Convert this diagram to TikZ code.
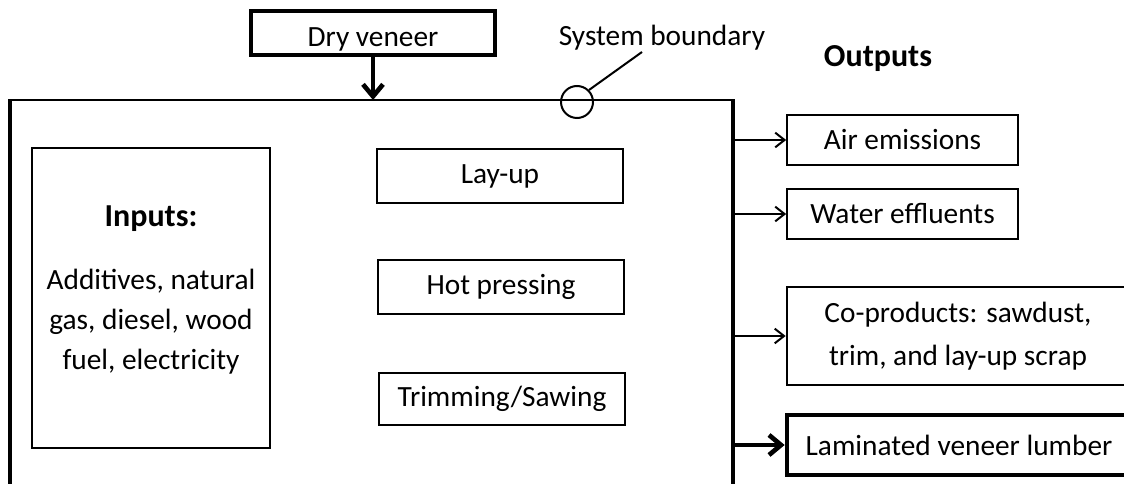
\documentclass[tikz,border=0pt]{standalone}
\usepackage{fontspec}
\setmainfont{Carlito}
\usetikzlibrary{arrows.meta}

\begin{document}
\begin{tikzpicture}[x=0.75pt, y=-0.75pt,
  box/.style={draw, line width=1.5pt, inner sep=0pt, align=center,
    font=\fontsize{22}{30}\selectfont},
  thickbox/.style={box, line width=3pt},
  title/.style={font=\fontsize{24}{28}\selectfont\bfseries},
  flow/.style={-{Straight Barb[length=7pt, width=11pt]}, line width=1.5pt},
  mainflow/.style={-{Straight Barb[length=9pt, width=15pt]}, line width=3.5pt}]
  \useasboundingbox (0,0) rectangle (1124,484);

  % system boundary
  \coordinate (tl) at (10,100);
  \coordinate (tr) at (733,100);
  \draw[line width=3pt] (10,500) -- (tl);
  \draw[line width=2pt] ([xshift=-1.5pt]tl) -- ([xshift=1.5pt]tr);
  \draw[line width=3pt] (tr) -- (733,500);
  \node[draw, circle, line width=1.5pt, minimum size=24pt, inner sep=0pt] (ring) at (577,102) {};
  \node[font=\fontsize{22}{26}\selectfont] (sysb) at (662,38) {System boundary};
  \draw[line width=1.5pt] (ring.north east) -- (642,52);

  % input side
  \node[thickbox, minimum width=183pt, minimum height=33pt, text height=20pt, text depth=0pt] (dry) at (373,33) {Dry veneer};
  \draw[mainflow] (dry.south) -- (dry.south |- tl);
  \node[box, minimum width=178pt, minimum height=225pt] (inputs) at (151,298) {};
  \node[title] (intitle) at (151,219) {Inputs:};
  \node[box, draw=none] (intext) at (151,322) {Additives, natural\\gas, diesel, wood\\fuel, electricity};

  % process steps
  \node[box, minimum width=184pt, minimum height=41pt] (layup) at (500,176) {Lay-up};
  \node[box, minimum width=184pt, minimum height=40pt] (hot) at (501,287) {Hot pressing};
  \node[box, minimum width=184pt, minimum height=39pt] (trim) at (502,399) {Trimming/Sawing};

  % outputs
  \node[title] (outtitle) at (878,59) {Outputs};
  \node[box, minimum width=173pt, minimum height=38pt] (air) at (902.5,140) {Air emissions};
  \node[box, minimum width=173pt, minimum height=38pt] (water) at (902.5,214) {Water effluents};
  \node[box, minimum width=260pt, minimum height=74pt] (coprod) at (960,336) {};
  \node[box, draw=none, font=\fontsize{22}{32}\selectfont] (coprodtext) at (958,336)
    {Co-products: sawdust,\\trim, and lay-up scrap};
  \node[thickbox, minimum width=260pt, minimum height=45pt] (lvl) at (960,445) {};
  \node[box, draw=none] (lvltext) at (959,445) {Laminated veneer lumber};
  \draw[flow] (tr |- air.west) -- (air.west);
  \draw[flow] (tr |- water.west) -- (water.west);
  \draw[flow] (tr |- coprod.west) -- (coprod.west);
  \draw[mainflow] (tr |- lvl.west) -- (lvl.west);
\end{tikzpicture}
\end{document}
